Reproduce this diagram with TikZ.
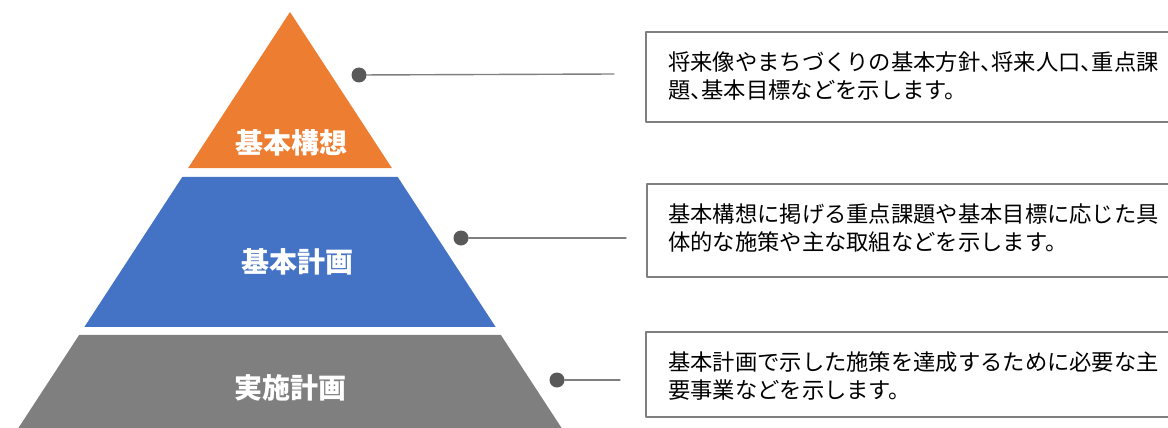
\documentclass[tikz,border=0pt]{standalone}
\usepackage{fontspec}
\newfontfamily\jp[RawFeature=+halt]{Noto Sans CJK JP}
\usetikzlibrary{calc}
\definecolor{cam}{HTML}{ED7D31}
\definecolor{lam}{HTML}{4472C4}
\definecolor{xam}{HTML}{7F7F7F}
\definecolor{chamxam}{HTML}{595959}
\tikzset{
  cham/.style={circle, fill=chamxam, inner sep=0pt, minimum size=15pt},
  noi/.style={draw=xam, line width=1.4pt},
  khung/.style={draw=xam, line width=1.2pt},
  tang/.style={text=white, font=\jp\bfseries\fontsize{28}{32}\selectfont},
  chu/.style={anchor=west, inner sep=0pt, font=\jp\fontsize{22.3}{28}\selectfont}
}
\begin{document}
\begin{tikzpicture}[x=1pt, y=-1pt, line join=round, line cap=round, >=stealth]
	\useasboundingbox (0,0) rectangle (1168,428);
	\coordinate (A) at (290,12);
	\coordinate (L) at (18.4,428);
	\coordinate (R) at (561.6,428);
	\foreach \mau/\tren/\duoi in {cam/0/0.375, lam/0.3966/0.7572, xam/0.7764/1}
		\fill[\mau] ($(A)!\tren!(L)$)--($(A)!\tren!(R)$)--($(A)!\duoi!(R)$)--($(A)!\duoi!(L)$)--cycle;
	\node[tang] (kousou) at (291,143) {基本構想};
	\node[tang] (keikaku) at (297,262) {基本計画};
	\node[tang] (jisshi) at (290,388) {実施計画};
	% cham va duong noi
	\node[cham] (d1) at (359,75) {};
	\node[cham] (d2) at (461,238) {};
	\node[cham] (d3) at (557,380) {};
	\coordinate (e1) at (614,74);
	\coordinate (e2) at (626,238);
	\coordinate (e3) at (620,380);
	\foreach \i in {1,2,3}\draw[noi] (d\i)--(e\i);
	% khung chu
	\draw[khung] (646,32) rectangle (1180,122);
	\draw[khung] (647,184) rectangle (1180,277);
	\draw[khung] (646,332) rectangle (1180,417);
	\node[chu] (t1a) at (668,62) {将来像やまちづくりの基本方針、将来人口、重点課};
	\node[chu] (t1b) at (668,90) {題、基本目標などを示します。};
	\node[chu] (t2a) at (668,214) {基本構想に掲げる重点課題や基本目標に応じた具};
	\node[chu] (t2b) at (668,242) {体的な施策や主な取組などを示します。};
	\node[chu] (t3a) at (668,362) {基本計画で示した施策を達成するために必要な主};
	\node[chu] (t3b) at (668,390) {要事業などを示します。};
\end{tikzpicture}
\end{document}
